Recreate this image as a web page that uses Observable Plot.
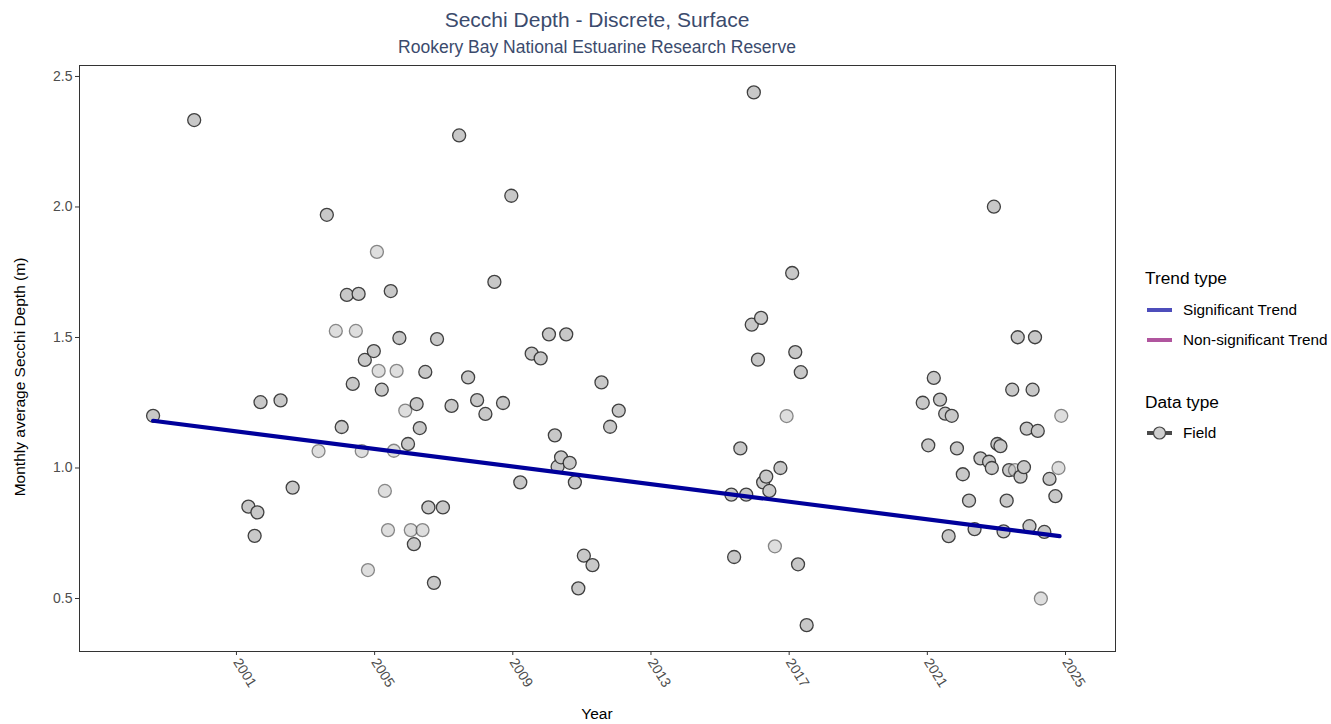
<!DOCTYPE html>
<html>
<head>
<meta charset="utf-8">
<script src="https://cdn.jsdelivr.net/npm/d3@7"></script>
<script src="https://cdn.jsdelivr.net/npm/@observablehq/plot@0.6"></script>
<style>
  body { margin: 0; background: #fff; font-family: "Liberation Sans", Arial, sans-serif; }
  #wrap { position: relative; width: 1331px; height: 724px; overflow: hidden; }
  #title { position: absolute; left: 79px; width: 1036px; top: 20px; transform: translateY(-50%); text-align: center; font-size: 21px; color: #3b4b6d; line-height: 24px; white-space: nowrap; }
  #subtitle { position: absolute; left: 79px; width: 1036px; top: 47px; transform: translateY(-50%); text-align: center; font-size: 17.5px; color: #3b4b6d; line-height: 20px; white-space: nowrap; }
  #chart { position: absolute; left: 0; top: 60px; }
  #ylab { position: absolute; left: 20px; top: 377px; transform: translate(-50%, -50%) rotate(-90deg); white-space: nowrap; font-size: 15.5px; color: #000; }
  #xlab { position: absolute; left: 597px; top: 714px; transform: translate(-50%, -50%); font-size: 15.5px; color: #000; }
  .lg-title { position: absolute; left: 1145px; font-size: 17.3px; color: #000; transform: translateY(-50%); white-space: nowrap; }
  .lg-item { position: absolute; left: 1145px; font-size: 15.3px; color: #000; transform: translateY(-50%); white-space: nowrap; display: flex; align-items: center; }
  .lg-item svg { margin-right: 10px; }
</style>
</head>
<body>
<div id="wrap">
  <div id="title">Secchi Depth - Discrete, Surface</div>
  <div id="subtitle">Rookery Bay National Estuarine Research Reserve</div>
  <div id="chart"></div>
  <div id="ylab">Monthly average Secchi Depth (m)</div>
  <div id="xlab">Year</div>
  <div class="lg-title" style="top:278px">Trend type</div>
  <div class="lg-item" style="top:310px"><svg width="28" height="14"><line x1="2" x2="27" y1="7" y2="7" stroke="#4d4dbb" stroke-width="4"/></svg>Significant Trend</div>
  <div class="lg-item" style="top:340px"><svg width="28" height="14"><line x1="2" x2="27" y1="7" y2="7" stroke="#b0559e" stroke-width="4"/></svg>Non-significant Trend</div>
  <div class="lg-title" style="top:402px">Data type</div>
  <div class="lg-item" style="top:433px"><svg width="28" height="16"><line x1="2" x2="27" y1="8" y2="8" stroke="#4a4a4a" stroke-width="4"/><circle cx="14.5" cy="8" r="6" fill="#cfcfcf" stroke="#444" stroke-width="1.2"/></svg>Field</div>
</div>
<script>
// ---- data ----
const years = [
  1998.50, 1999.69, 2001.26, 2001.44, 2001.52, 2001.61, 2002.19, 2002.54, 2003.29, 2003.53,
  2003.79, 2003.96, 2004.11, 2004.28, 2004.37, 2004.45, 2004.54, 2004.63, 2004.72, 2004.89,
  2004.98, 2005.03, 2005.12, 2005.21, 2005.30, 2005.38, 2005.47, 2005.55, 2005.63, 2005.80,
  2005.88, 2005.96, 2006.05, 2006.13, 2006.22, 2006.30, 2006.38, 2006.47, 2006.63, 2006.72,
  2006.89, 2007.14, 2007.36, 2007.62, 2007.88, 2008.12, 2008.38, 2008.63, 2008.87, 2009.13,
  2009.46, 2009.72, 2009.96, 2010.13, 2010.21, 2010.31, 2010.46, 2010.56, 2010.71, 2010.81,
  2010.97, 2011.22, 2011.48, 2011.73, 2011.98,
  2015.24, 2015.32, 2015.50, 2015.67, 2015.83, 2015.89, 2016.01, 2016.10, 2016.16, 2016.25,
  2016.34, 2016.50, 2016.66, 2016.84, 2017.00, 2017.09, 2017.17, 2017.25, 2017.42,
  2020.78, 2020.94, 2021.10, 2021.28, 2021.43, 2021.53, 2021.62, 2021.77, 2021.94, 2022.12,
  2022.28, 2022.45, 2022.70, 2022.78, 2022.84, 2022.94, 2023.03, 2023.12, 2023.21, 2023.28,
  2023.37, 2023.45, 2023.53, 2023.61, 2023.71, 2023.79, 2023.87, 2023.96, 2024.03, 2024.11,
  2024.20, 2024.30, 2024.45, 2024.62, 2024.71, 2024.79
];
const depths = [
  1.200, 2.333, 0.852, 0.740, 0.830, 1.252, 1.259, 0.925, 1.065, 1.970,
  1.525, 1.157, 1.663, 1.322, 1.525, 1.667, 1.065, 1.414, 0.609, 1.448,
  1.828, 1.372, 1.300, 0.912, 0.762, 1.678, 1.066, 1.372, 1.498, 1.220,
  1.092, 0.762, 0.708, 1.245, 1.153, 0.762, 1.368, 0.849, 0.560, 1.494,
  0.849, 1.238, 2.274, 1.347, 1.260, 1.207, 1.713, 1.249, 2.043, 0.945,
  1.438, 1.420, 1.512, 1.125, 1.005, 1.041, 1.512, 1.020, 0.945, 0.539,
  0.664, 0.628, 1.328, 1.158, 1.220,
  0.898, 0.659, 1.075, 0.898, 1.549, 2.439, 1.415, 1.575, 0.945, 0.967,
  0.912, 0.700, 1.000, 1.199, 1.747, 1.444, 0.631, 1.367, 0.398,
  1.250, 1.087, 1.345, 1.262, 1.208, 0.739, 1.200, 1.075, 0.976, 0.875,
  0.766, 1.037, 1.024, 1.000, 2.001, 1.092, 1.084, 0.757, 0.875, 0.992,
  1.300, 0.992, 1.501, 0.967, 1.003, 1.151, 0.777, 1.300, 1.501, 1.142,
  0.500, 0.755, 0.958, 0.892, 1.000, 1.200
];
// 1 = lighter (more transparent) point
const faint = [
  0, 0, 0, 0, 0, 0, 0, 0, 1, 0,
  1, 0, 0, 0, 1, 0, 1, 0, 1, 0,
  1, 1, 0, 1, 1, 0, 1, 1, 0, 1,
  0, 1, 0, 0, 0, 1, 0, 0, 0, 0,
  0, 0, 0, 0, 0, 0, 0, 0, 0, 0,
  0, 0, 0, 0, 0, 0, 0, 0, 0, 0,
  0, 0, 0, 0, 0,
  0, 0, 0, 0, 0, 0, 0, 0, 0, 0,
  0, 1, 0, 1, 0, 0, 0, 0, 0,
  0, 0, 0, 0, 0, 0, 0, 0, 0, 0,
  0, 0, 0, 0, 0, 0, 0, 0, 0, 0,
  0, 1, 0, 0, 0, 0, 0, 0, 0, 0,
  1, 0, 0, 0, 1, 1
];
const trendYears = [1998.50, 2024.74];
const trendValues = [1.181, 0.739];
const xTicks = [2001, 2005, 2009, 2013, 2017, 2021, 2025];
const yTicks = [0.5, 1.0, 1.5, 2.0, 2.5];

const points = years.map((x, i) => ({x, y: depths[i], o: faint[i] ? 0.6 : 1}));
const trend = trendYears.map((x, i) => ({x, y: trendValues[i]}));

const chart = Plot.plot({
  width: 1331,
  height: 664,
  marginTop: 5,
  marginBottom: 73,
  marginLeft: 79,
  marginRight: 216,
  style: {fontFamily: '"Liberation Sans", Arial, sans-serif', background: "transparent"},
  x: {domain: [1996.37, 2026.36]},
  y: {domain: [0.297, 2.542]},
  marks: [
    Plot.frame({stroke: "#333", strokeWidth: 1}),
    Plot.axisY({ticks: yTicks, tickFormat: d3.format(".1f"), tickSize: 4, tickPadding: 3, fontSize: 14, stroke: "#333", fill: "#4d4d4d", label: null}),
    Plot.axisX({ticks: xTicks, tickFormat: d => String(d), tickSize: 4, tickRotate: 58, textAnchor: "start", lineAnchor: "middle", tickPadding: 4, dx: -3, fontSize: 14, stroke: "#333", fill: "#4d4d4d", label: null}),
    Plot.dot(points, {x: "x", y: "y", r: 6.5, fill: "#c8c8c8", stroke: "#2e2e2e", strokeWidth: 1.3, fillOpacity: "o", strokeOpacity: d => d.o * 0.9}),
    Plot.line(trend, {x: "x", y: "y", stroke: "#00009b", strokeWidth: 4.2})
  ]
});
document.getElementById("chart").appendChild(chart);
</script>
</body>
</html>
